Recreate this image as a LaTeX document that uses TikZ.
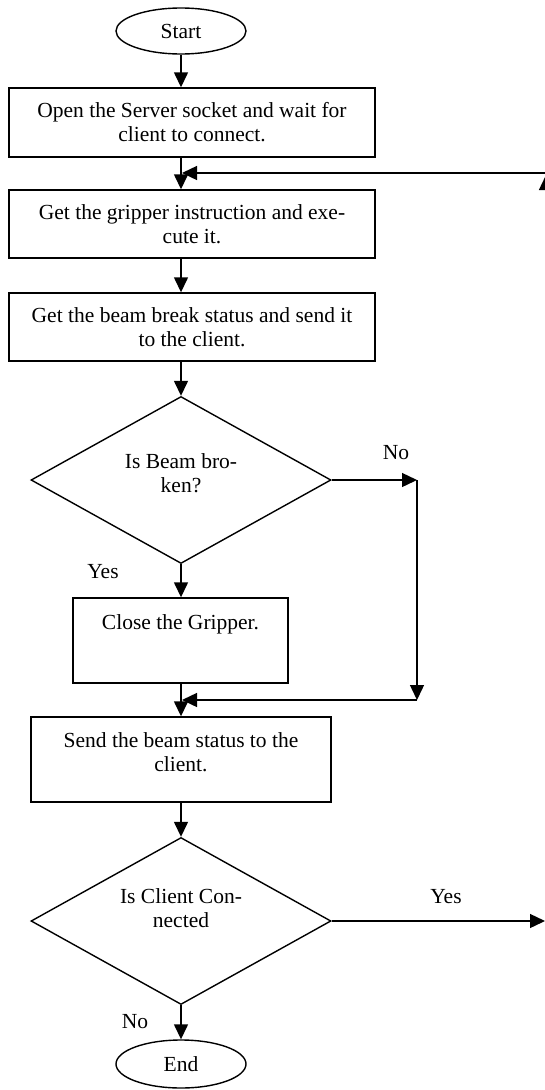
\documentclass[tikz,border=0pt]{standalone}
\usepackage{fontspec}
\setmainfont{Liberation Serif}
\usetikzlibrary{shapes.geometric,arrows.meta}
\begin{document}
\begin{tikzpicture}[x=1pt,y=-1pt,
  every node/.style={font=\fontsize{21.5}{24}\selectfont},
  flow/.style={line width=1.4pt, -{Triangle[length=15pt,width=14pt]}},
  stepbox/.style={draw, line width=1.4pt, rectangle, inner sep=0pt, align=center},
  term/.style={draw, line width=1.4pt, ellipse, inner sep=0pt, minimum width=130pt, minimum height=46pt},
  decide/.style={draw, line width=1.4pt, diamond, aspect=2, inner sep=0pt, align=center, minimum width=300pt, minimum height=167pt},
  lbl/.style={inner sep=0pt}
]
\useasboundingbox (0,0) rectangle (545,1090);

% terminals, steps and decisions
\node[term] (start) at (181,31) {Start};
\node[stepbox, minimum width=366pt, minimum height=69pt] (open) at (192,122.5)
  {Open the Server socket and wait for\\client to connect.};
\node[stepbox, minimum width=366pt, minimum height=68pt] (grip) at (192,224)
  {Get the gripper instruction and exe-\\cute it.};
\node[stepbox, minimum width=366pt, minimum height=68pt] (beam) at (192,327)
  {Get the beam break status and send it\\to the client.};
\node[decide, text depth=14pt] (broken) at (181,480) {Is Beam bro-\\ken?};
\node[stepbox, minimum width=215pt, minimum height=85pt, text height=15pt, text depth=37pt] (close) at (180.5,640.5)
  {Close the Gripper.};
\node[stepbox, minimum width=300pt, minimum height=85pt, text depth=14pt] (send) at (181,759.5)
  {Send the beam status to the\\client.};
\node[decide, text depth=26pt] (conn) at (181,921) {Is Client Con-\\nected};
\node[term, minimum height=48pt] (end) at (181,1064) {End};

% branch labels
\node[lbl] (lno1) at (396,453) {No};
\node[lbl] (lyes1) at (103,572) {Yes};
\node[lbl] (lyes2) at (446,897) {Yes};
\node[lbl] (lno2) at (135,1022) {No};

% routing points
\coordinate (spine) at (181,0);
\coordinate (loopIn) at (182,173);
\coordinate (rTop) at (546,173);
\coordinate (rTip) at (546,175);
\coordinate (rBot) at (546,921);
\coordinate (yesEnd) at (545,921);
\coordinate (noR) at (417,480);
\coordinate (noB) at (417,700);
\coordinate (mergeIn) at (182,700);

% main flow, all along the vertical spine x = 181
\draw[flow] (start.south) -- (spine |- open.north);
\draw[flow] (spine |- open.south) -- (spine |- grip.north);
\draw[flow] (spine |- grip.south) -- (spine |- beam.north);
\draw[flow] (spine |- beam.south) -- (broken.north);
\draw[flow] (broken.south) -- (spine |- close.north);
\draw[flow] (spine |- close.south) -- (send.north);
\draw[flow] (send.south) -- (conn.north);
\draw[flow] (conn.south) -- (end.north);

% "No" bypass around the gripper step
\draw[flow] (broken.east) -- (noR);
\draw[flow] (noR) -- (noB);
\draw[flow] (noB) -- (mergeIn);

% "Yes" loop back to the instruction step
\draw[flow] (conn.east) -- (yesEnd);
\draw[flow] (rBot) -- (rTip);
\draw[flow] (rTop) -- (loopIn);
\end{tikzpicture}
\end{document}
